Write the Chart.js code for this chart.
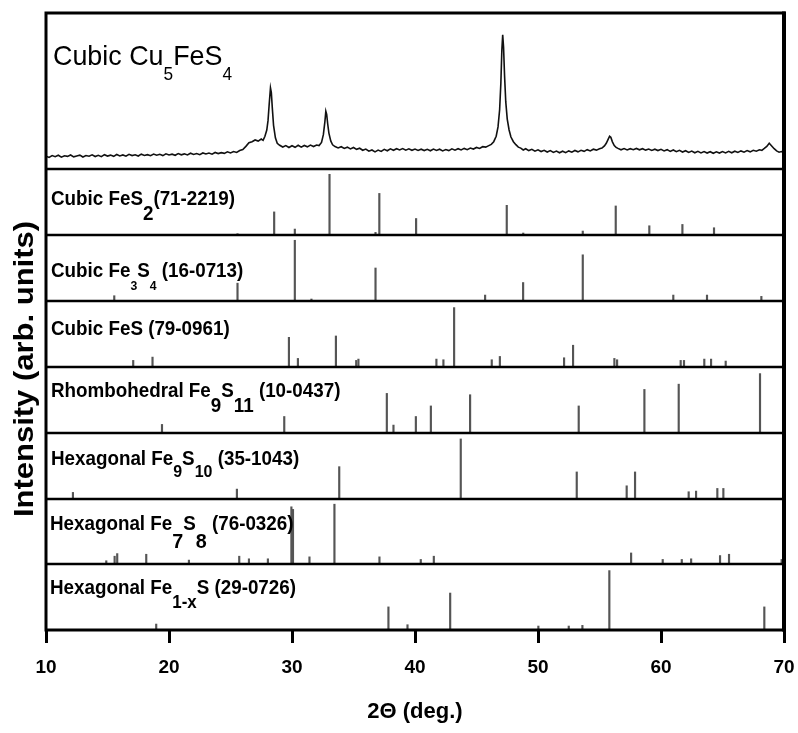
<!DOCTYPE html>
<html>
<head>
<meta charset="utf-8">
<script src="https://cdn.jsdelivr.net/npm/chart.js@4.4.1/dist/chart.umd.min.js"></script>
<style>
  html, body { margin: 0; padding: 0; background: #fff; }
  canvas { display: block; }
</style>
</head>
<body>
<canvas id="xrd" width="798" height="733"></canvas>
<script>
// x axis ticks (2 theta, deg.)
const xTicks = [10, 20, 30, 40, 50, 60, 70];

const patternTheta = [
  10,10.25,10.5,10.75,11,11.25,11.5,11.75,12,12.25,12.5,12.75,13,13.25,13.5,13.75,14,14.25,14.5,14.75,
  15,15.25,15.5,15.75,16,16.25,16.5,16.75,17,17.25,17.5,17.75,18,18.25,18.5,18.75,19,19.25,19.5,19.75,
  20,20.25,20.5,20.75,21,21.25,21.5,21.75,22,22.25,22.5,22.75,23,23.25,23.5,23.75,24,24.25,24.5,24.75,
  25,25.25,25.5,25.75,26,26.25,26.5,26.75,27,27.25,27.5,27.65,
  27.8,27.95,28.05,28.15,28.25,28.32,28.4,28.5,28.65,28.8,29,
  29.25,29.5,29.75,30,30.25,30.5,30.75,31,31.25,31.5,31.75,32,32.2,
  32.4,32.55,32.67,32.75,32.82,32.9,33,33.15,33.3,33.5,
  33.75,34,34.25,34.5,34.75,35,35.25,35.5,35.75,36,36.25,36.5,36.75,37,37.25,37.5,37.75,38,38.25,38.5,
  38.75,39,39.25,39.5,39.75,40,40.25,40.5,40.75,41,41.25,41.5,41.75,42,42.25,42.5,42.75,43,43.25,43.5,
  43.75,44,44.25,44.5,44.75,45,45.25,45.5,45.75,46,46.2,
  46.4,46.6,46.75,46.88,46.98,47.06,47.13,47.2,47.28,47.38,47.5,47.65,47.8,48,48.2,48.4,48.6,
  48.8,49,49.25,49.5,49.75,50,50.25,50.5,50.75,51,51.25,51.5,51.75,52,52.25,52.5,52.75,53,53.25,53.5,
  53.75,54,54.25,54.5,54.75,55,55.2,55.4,55.55,55.7,55.82,55.92,56.05,56.2,56.35,
  56.5,56.75,57,57.25,57.5,57.75,58,58.25,58.5,58.75,59,59.25,59.5,59.75,60,60.25,60.5,60.75,61,61.25,
  61.5,61.75,62,62.25,62.5,62.75,63,63.25,63.5,63.75,64,64.25,64.5,64.75,65,65.25,65.5,65.75,66,66.25,
  66.5,66.75,67,67.25,67.5,67.75,68,68.2,68.4,68.6,68.8,69,69.2,69.4,69.6,69.8,70
];
const patternCounts = [
  8.2,7.4,8.6,7.9,8.8,7.6,8.5,8.1,9.0,7.8,8.4,8.9,7.7,8.6,8.2,9.1,8.0,8.8,7.9,9.2,
  8.3,8.9,8.1,9.3,8.4,9.0,8.2,9.4,8.6,9.1,8.3,9.5,8.7,9.2,8.5,9.6,8.8,9.4,8.6,9.7,
  9.0,9.5,8.8,9.9,9.1,9.7,9.0,10.1,9.3,9.9,9.2,10.3,9.6,10.2,9.5,10.6,9.9,10.5,10.0,11.0,
  10.3,11.2,10.6,11.8,12.5,14.5,16.8,17.5,18.6,17.9,19.2,18.4,
  21,25,31,42,52,49,39,28,20,16.5,15.2,
  14.1,15.0,13.8,14.9,13.9,15.2,14.0,15.1,14.2,15.3,14.4,15.4,15.0,
  17,22,30,37,35,29,23,18,15.5,14.4,
  13.5,14.3,13.2,14.0,12.9,13.8,12.6,13.3,12.0,12.8,11.4,12.2,11.0,12.1,11.3,12.6,11.7,12.9,12.0,13.0,
  12.2,13.1,12.1,12.9,12.0,12.8,11.9,12.7,11.8,12.6,11.7,12.8,11.9,12.7,11.6,12.5,11.8,12.9,12.1,13.0,
  12.2,13.2,12.4,13.4,12.8,13.8,13.2,14.3,14.0,15.0,15.8,
  17.5,21,27,38,55,76,86,78,60,43,32,25,20.5,17.5,15.6,14.0,13.4,
  12.2,13.0,11.8,12.6,11.4,12.3,11.2,12.0,10.9,11.8,10.6,11.5,10.4,11.4,10.5,11.6,10.8,11.9,11.0,12.0,
  11.3,12.4,11.6,12.7,12.1,13.0,13.4,14.8,16.5,19,21,20.3,17.4,15.0,13.9,
  13.2,12.3,13.1,12.2,13.0,12.4,13.2,12.3,13.0,12.1,12.8,11.9,12.7,11.8,12.6,11.6,12.4,11.3,12.2,11.1,
  12.0,10.9,11.7,10.6,11.5,10.4,11.3,10.3,11.2,10.2,11.1,10.1,11.0,10.2,11.2,10.3,11.3,10.4,11.4,10.6,
  11.6,10.8,11.8,11.0,12.0,11.4,12.3,12.0,13.2,14.5,16.5,14.8,13.0,11.6,10.8,11.2,10.4
];

// reference cards (stick positions and relative intensities)
const fes2Theta = [25.57,28.55,30.23,33.05,36.79,37.10,40.09,47.46,48.80,53.64,56.32,59.05,61.74,64.31];
const fes2Int   = [2,35,9,92,4,63,25,45,3,6,44,14,16,11];

const fe3s4Theta = [15.55,25.57,30.23,31.58,36.79,45.70,48.79,53.64,61.00,63.74,68.16];
const fe3s4Int   = [8,27,92,3,50,9,28,70,9,9,7];

const fesTheta = [17.09,18.66,29.75,30.48,33.57,35.22,35.40,41.74,42.31,43.18,46.24,46.90,52.12,52.85,56.21,56.43,61.60,61.87,63.52,64.07,65.26];
const fesInt   = [10,15,45,13,47,10,12,12,11,90,11,16,14,33,13,11,10,10,12,12,9];

const fe9s11Theta = [19.43,29.37,37.71,38.25,40.07,41.29,44.48,53.31,58.65,61.44,68.05];
const fe9s11Int   = [13,25,60,12,25,41,58,41,66,74,90];

const fe9s10Theta = [12.19,25.52,33.84,43.72,53.15,57.21,57.89,62.25,62.85,64.58,65.07];
const fe9s10Int   = [10,15,49,91,41,20,41,11,12,16,16];

const fe7s8Theta = [14.90,15.58,15.79,18.15,21.62,25.71,26.50,28.04,29.95,30.08,31.42,33.45,37.11,40.47,41.53,57.57,60.14,61.69,62.45,64.80,65.53,69.81];
const fe7s8Int   = [5,12,16,15,6,12,8,8,88,84,11,92,11,7,12,17,7,7,8,13,15,7];

const fe1xsTheta = [18.96,37.84,39.39,42.86,50.03,52.50,53.61,55.80,68.40];
const fe1xsInt   = [9,35,8,56,6,6,7,90,35];

function sticks(theta, inten) {
  return theta.map((t, i) => ({x: t, y: inten[i]}));
}

// chart.js puts the last declared stacked axis on top, so list bottom -> top
const stickPanels = [
  {id: 'yFe1xS',  theta: fe1xsTheta,  inten: fe1xsInt,  weight: 66},
  {id: 'yFe7S8',  theta: fe7s8Theta,  inten: fe7s8Int,  weight: 65},
  {id: 'yFe9S10', theta: fe9s10Theta, inten: fe9s10Int, weight: 66},
  {id: 'yFe9S11', theta: fe9s11Theta, inten: fe9s11Int, weight: 66},
  {id: 'yFeS',    theta: fesTheta,    inten: fesInt,    weight: 66},
  {id: 'yFe3S4',  theta: fe3s4Theta,  inten: fe3s4Int,  weight: 66},
  {id: 'yFeS2',   theta: fes2Theta,   inten: fes2Int,   weight: 66}
];

const FONT = '"Liberation Sans", Arial, sans-serif';
const NARROW = '"Liberation Sans Narrow", "Liberation Sans", Arial, sans-serif';

// text, font size, baseline shift (for subscripts)
const panelLabels = [
  {axis: 'yCu', dx: 7, dy: 52, weight: 'normal', sx: 0.96,
   parts: [['Cubic Cu', 28, 0], ['5', 18, 15], ['FeS', 28, 0], ['4', 18, 15]]},
  {axis: 'yFeS2', dx: 5, dy: 36, weight: 'bold', sx: 0.94,
   parts: [['Cubic FeS', 20, 0], ['2', 20, 15], ['(71-2219)', 20, 0]]},
  {axis: 'yFe3S4', dx: 5, dy: 42, weight: 'bold', sx: 0.94,
   parts: [['Cubic Fe', 20, 0], ['3', 13, 13], ['S', 20, 0], ['4', 13, 13], [' (16-0713)', 20, 0]]},
  {axis: 'yFeS', dx: 5, dy: 34, weight: 'bold', sx: 0.94,
   parts: [['Cubic FeS (79-0961)', 20, 0]]},
  {axis: 'yFe9S11', dx: 5, dy: 30, weight: 'bold', sx: 0.94,
   parts: [['Rhombohedral Fe', 20, 0], ['9', 20, 15], ['S', 20, 0], ['11', 20, 15], [' (10-0437)', 20, 0]]},
  {axis: 'yFe9S10', dx: 5, dy: 32, weight: 'bold', sx: 0.94,
   parts: [['Hexagonal Fe', 20, 0], ['9', 17, 12], ['S', 20, 0], ['10', 17, 12], [' (35-1043)', 20, 0]]},
  {axis: 'yFe7S8', dx: 4, dy: 31, weight: 'bold', sx: 0.94,
   parts: [['Hexagonal Fe', 20, 0], ['7', 21, 18], ['S', 20, 0], ['8', 21, 18], [' (76-0326)', 20, 0]]},
  {axis: 'yFe1xS', dx: 4, dy: 30, weight: 'bold', sx: 0.94,
   parts: [['Hexagonal Fe', 20, 0], ['1-x', 18, 14], ['S (29-0726)', 20, 0]]}
];

function drawParts(ctx, x, y, parts, weight, sx) {
  ctx.save();
  ctx.translate(x, y);
  ctx.scale(sx, 1);
  let cx = 0;
  for (const [txt, size, dy] of parts) {
    ctx.font = `${weight} ${size}px ${FONT}`;
    ctx.fillText(txt, cx, dy);
    cx += ctx.measureText(txt).width;
  }
  ctx.restore();
}

const framePlugin = {
  id: 'frame',
  afterDatasetsDraw(chart) {
    const {ctx, chartArea: {left, right, top, bottom}} = chart;
    ctx.save();
    ctx.strokeStyle = '#000';
    ctx.lineWidth = 2.5;
    stickPanels.forEach(p => {
      const y = chart.scales[p.id].top;
      ctx.beginPath();
      ctx.moveTo(left, y);
      ctx.lineTo(right, y);
      ctx.stroke();
    });
    ctx.lineWidth = 3;
    ctx.strokeRect(left, top, right - left, bottom - top);
    ctx.lineWidth = 4;
    ctx.beginPath();
    ctx.moveTo(right, top - 1.5);
    ctx.lineTo(right, bottom + 1.5);
    ctx.stroke();
    ctx.restore();
  }
};

const labelPlugin = {
  id: 'panelLabels',
  afterDraw(chart) {
    const ctx = chart.ctx;
    const left = chart.chartArea.left;
    ctx.save();
    ctx.fillStyle = '#000';
    ctx.textAlign = 'left';
    ctx.textBaseline = 'alphabetic';
    panelLabels.forEach(lab => {
      const s = chart.scales[lab.axis];
      drawParts(ctx, left + lab.dx, s.top + lab.dy, lab.parts, lab.weight, lab.sx);
    });
    // y axis title, spans all panels
    ctx.translate(33, 369);
    ctx.rotate(-Math.PI / 2);
    ctx.scale(1, 0.9);
    ctx.textAlign = 'center';
    ctx.font = `bold 31px ${FONT}`;
    ctx.fillText('Intensity (arb. units)', 0, 0);
    ctx.restore();
  }
};

function panelScale(weight) {
  return {
    type: 'linear', position: 'left', stack: 'xrd', stackWeight: weight,
    min: 0, max: 100, offset: false, stacked: false,
    ticks: {display: false},
    grid: {display: false, drawTicks: false},
    border: {display: false}
  };
}

const scales = {
  x: {
    type: 'linear', position: 'bottom', min: 10, max: 70, offset: false,
    afterBuildTicks: axis => { axis.ticks = xTicks.map(v => ({value: v})); },
    // fixed axis box so the plot frame keeps its size
    afterFit: axis => { axis.height = 95; axis.paddingLeft = 0; axis.paddingRight = 0; },
    grid: {display: true, drawOnChartArea: false, drawTicks: true, tickLength: 13, tickWidth: 3, tickColor: '#000', offset: false},
    border: {display: false},
    ticks: {color: '#000', padding: 13, maxRotation: 0, autoSkip: false,
            font: {family: NARROW, size: 19, weight: 'bold'}},
    title: {display: true, text: '2Θ (deg.)', color: '#000',
            font: {family: NARROW, size: 22, weight: 'bold'}, padding: {top: 0, bottom: 0}}
  }
};
stickPanels.forEach(p => { scales[p.id] = panelScale(p.weight); });
scales.yCu = panelScale(156);

const datasets = [{
  type: 'line',
  data: patternTheta.map((t, i) => ({x: t, y: patternCounts[i]})),
  yAxisID: 'yCu',
  borderColor: '#111',
  borderWidth: 1.6,
  pointRadius: 0,
  fill: false,
  tension: 0
}];
stickPanels.forEach(p => {
  datasets.push({
    type: 'bar',
    data: sticks(p.theta, p.inten),
    yAxisID: p.id,
    stack: 'sticks',
    backgroundColor: '#555',
    borderWidth: 0,
    barThickness: 1.5
  });
});

new Chart(document.getElementById('xrd'), {
  type: 'bar',
  data: {datasets: datasets},
  options: {
    responsive: false,
    animation: false,
    devicePixelRatio: 1,
    layout: {padding: {left: 46, right: 14, top: 13, bottom: 8}},
    plugins: {legend: {display: false}, tooltip: {enabled: false}},
    scales: scales
  },
  plugins: [framePlugin, labelPlugin]
});
</script>
</body>
</html>
